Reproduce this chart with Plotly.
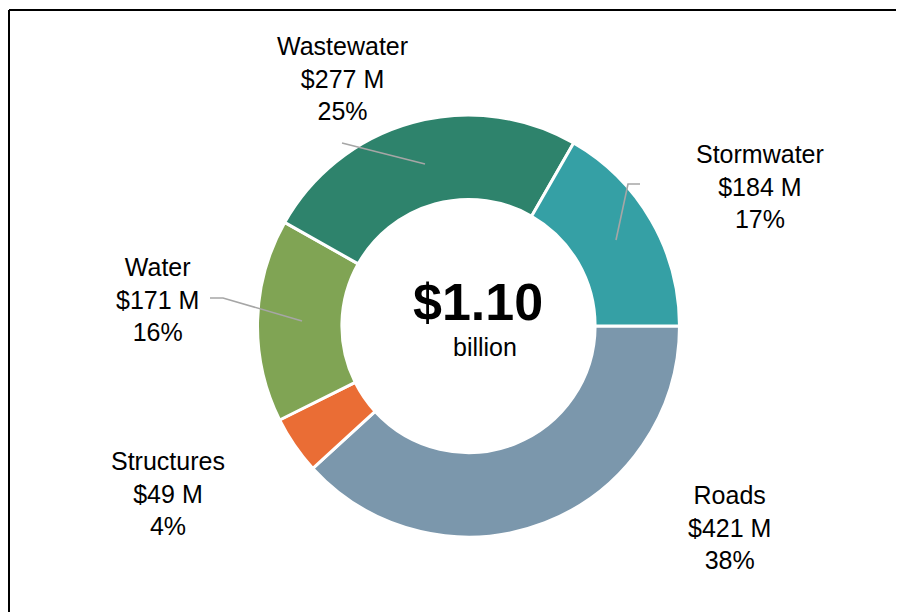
import plotly.graph_objects as go

OFF = 8  # page body margin shifts the figure by 8px
W, H = 904 - OFF, 612 - OFF

# slice order follows the chart: clockwise from 3 o'clock
labels = ["Roads", "Structures", "Water", "Wastewater", "Stormwater"]
values = [421, 49, 171, 277, 184]
colors = ["#7B97AC", "#EA6D35", "#80A454", "#2E836C", "#35A0A5"]

total_text = "$1.10"
total_unit = "billion"

total = sum(values)
percents = [round(v / total * 100) for v in values]


def px(x):
    return (x - OFF) / W


def py(y):
    return 1 - (y - OFF) / H


fig = go.Figure()

fig.add_trace(
    go.Pie(
        labels=labels,
        values=values,
        hole=0.6,
        sort=False,
        direction="clockwise",
        rotation=90,
        textinfo="none",
        marker={"colors": colors, "line": {"color": "white", "width": 3}},
        domain={"x": [px(256), px(681)], "y": [py(537), py(115)]},
        showlegend=False,
    )
)

# label positions (center x, y of middle line), in screen pixels
label_pos = {
    "Roads": (729, 527),
    "Structures": (168, 493),
    "Water": (157, 299),
    "Wastewater": (342, 78),
    "Stormwater": (760, 186),
}

font = "Liberation Sans, Arial, sans-serif"
annotations = []
for lab, val, pct in zip(labels, values, percents):
    x, y = label_pos[lab]
    annotations.append(
        dict(
            x=px(x), y=py(y), xref="paper", yref="paper",
            text=f"{lab}<br>${val} M<br>{pct}%",
            showarrow=False, xanchor="center", yanchor="middle",
            font={"family": font, "size": 25, "color": "#000000"},
        )
    )

annotations.append(
    dict(
        x=px(478), y=py(302), xref="paper", yref="paper",
        text=f"<b>{total_text}</b>", showarrow=False,
        xanchor="center", yanchor="middle",
        font={"family": font, "size": 52, "color": "#000000"},
    )
)
annotations.append(
    dict(
        x=px(485), y=py(347), xref="paper", yref="paper",
        text=total_unit, showarrow=False,
        xanchor="center", yanchor="middle",
        font={"family": font, "size": 25, "color": "#000000"},
    )
)

# leader lines
leader = {"color": "#A6A6A6", "width": 1.6}
frame = {"color": "#000000", "width": 2}
shapes = [
    dict(type="path", xref="paper", yref="paper",
         path=f"M {px(342)} {py(143)} L {px(425)} {py(164)}", line=leader),
    dict(type="path", xref="paper", yref="paper",
         path=f"M {px(640)} {py(184)} L {px(628)} {py(184)} L {px(616)} {py(240)}",
         line=leader),
    dict(type="path", xref="paper", yref="paper",
         path=f"M {px(210)} {py(298)} L {px(223)} {py(298)} L {px(302)} {py(321)}",
         line=leader),
    # chart frame: only the top and left edges show
    dict(type="line", xref="paper", yref="paper",
         x0=px(9), x1=px(9), y0=0, y1=py(10), line=frame),
    dict(type="line", xref="paper", yref="paper",
         x0=px(9), x1=1, y0=py(10), y1=py(10), line=frame),
]

fig.update_layout(
    width=W,
    height=H,
    margin={"l": 0, "r": 0, "t": 0, "b": 0},
    paper_bgcolor="white",
    plot_bgcolor="white",
    annotations=annotations,
    shapes=shapes,
)

fig.write_html("out.html")
